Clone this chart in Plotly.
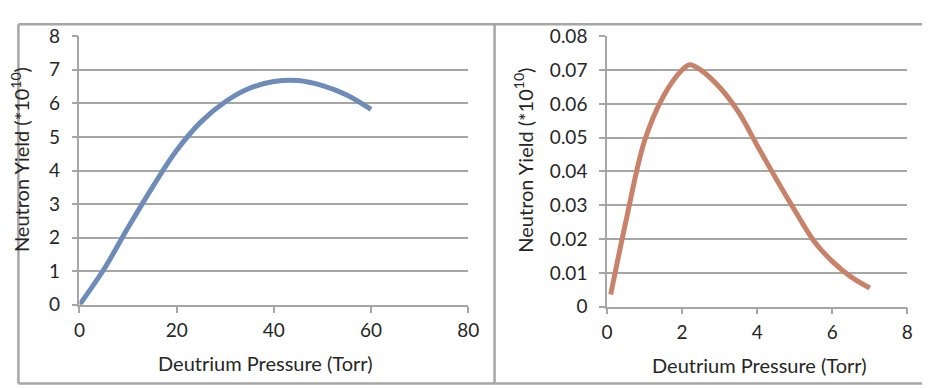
import plotly.graph_objects as go

W, H = 930, 388

# ---- data ----
left_pressure = [0, 5, 10, 15, 20, 25, 30, 35, 40, 45, 50, 55, 60]
left_yield = [0, 1.05, 2.3, 3.5, 4.6, 5.45, 6.05, 6.45, 6.65, 6.68, 6.53, 6.25, 5.82]

right_pressure = [0.1, 0.5, 1.0, 1.5, 2.0, 2.2, 2.5, 3.0, 3.5, 4.0, 4.5, 5.0, 5.5, 6.0, 6.5, 7.0]
right_yield = [0.0036, 0.025, 0.049, 0.0622, 0.0700, 0.0716, 0.0700, 0.0649, 0.0576,
               0.0477, 0.0379, 0.0285, 0.0196, 0.0134, 0.0088, 0.0055]

left_xticks = [0, 20, 40, 60, 80]
left_yticks = [0, 1, 2, 3, 4, 5, 6, 7, 8]
right_xticks = [0, 2, 4, 6, 8]
right_yticks = [0, 0.01, 0.02, 0.03, 0.04, 0.05, 0.06, 0.07, 0.08]
right_yticklabels = ["0", "0.01", "0.02", "0.03", "0.04", "0.05", "0.06", "0.07", "0.08"]

x_title = "Deutrium Pressure (Torr)"
y_title = "Neutron Yield (*10<sup>10</sup>)"

BLUE = "#6D8CBA"
ORANGE = "#C9826A"
GRID = "#A6A6A6"
TXT = "#262626"
FONT = "Lato, Liberation Sans, sans-serif"

def px_x(p):
    return p / W

def px_y(p):
    return (H - p) / H

fig = go.Figure()
fig.add_trace(go.Scatter(x=left_pressure, y=left_yield, mode="lines",
                         line=dict(color=BLUE, width=5, shape="spline", smoothing=1.0),
                         xaxis="x", yaxis="y", showlegend=False))
fig.add_trace(go.Scatter(x=right_pressure, y=right_yield, mode="lines",
                         line=dict(color=ORANGE, width=5, shape="spline", smoothing=1.0),
                         xaxis="x2", yaxis="y2", showlegend=False))

common_x = dict(showgrid=False, zeroline=False, showline=True, linecolor=GRID, linewidth=1.5,
                ticks="outside", ticklen=6, tickcolor=GRID, tickwidth=1.5,
                tickfont=dict(family=FONT, size=19, color=TXT), ticklabelstandoff=2,
                fixedrange=True)
common_y = dict(showgrid=True, gridcolor=GRID, gridwidth=1.5, zeroline=False, showline=True,
                linecolor=GRID, linewidth=1.5, ticks="outside", ticklen=6, tickcolor=GRID,
                tickwidth=1.5, tickfont=dict(family=FONT, size=19, color=TXT),
                ticklabelstandoff=8, fixedrange=True)

fig.update_layout(
    width=W, height=H, margin=dict(l=0, r=0, t=0, b=0),
    paper_bgcolor="white", plot_bgcolor="white",
    xaxis=dict(domain=[px_x(66.7), px_x(462.7)], range=[0, 80], tickvals=left_xticks,
               anchor="y", **common_x),
    yaxis=dict(domain=[px_y(302.7), px_y(17.3)], range=[0, 8], tickvals=left_yticks,
               anchor="x", **common_y),
    xaxis2=dict(domain=[px_x(604), px_x(910)], range=[0, 8], tickvals=right_xticks,
                anchor="y2", **common_x),
    yaxis2=dict(domain=[px_y(304.7), px_y(17.3)], range=[0, 0.08], tickvals=right_yticks,
                ticktext=right_yticklabels, anchor="x2", **common_y),
)

ann_font = dict(family=FONT, size=20, color=TXT)
fig.add_annotation(text=x_title, x=px_x(256), y=px_y(365), xref="paper", yref="paper",
                   showarrow=False, font=ann_font, xanchor="center", yanchor="middle")
fig.add_annotation(text=x_title, x=px_x(759), y=px_y(367), xref="paper", yref="paper",
                   showarrow=False, font=ann_font, xanchor="center", yanchor="middle")
fig.add_annotation(text=y_title, x=px_x(6), y=px_y(148), xref="paper", yref="paper",
                   showarrow=False, font=ann_font, textangle=-90, xanchor="center", yanchor="middle")
fig.add_annotation(text=y_title, x=px_x(519), y=px_y(149), xref="paper", yref="paper",
                   showarrow=False, font=ann_font, textangle=-90, xanchor="center", yanchor="middle")

border = dict(color=GRID, width=2.5)
fig.add_shape(type="line", xref="paper", yref="paper", x0=px_x(4.5), x1=1.02,
              y0=px_y(4.5), y1=px_y(4.5), line=border)
fig.add_shape(type="line", xref="paper", yref="paper", x0=px_x(4.5), x1=1.02,
              y0=px_y(386.5), y1=px_y(386.5), line=border)
fig.add_shape(type="line", xref="paper", yref="paper", x0=px_x(4.5), x1=px_x(4.5),
              y0=px_y(4.5), y1=px_y(386.5), line=border)
fig.add_shape(type="line", xref="paper", yref="paper", x0=px_x(489.5), x1=px_x(489.5),
              y0=px_y(4.5), y1=px_y(386.5), line=border)

fig.write_html("out.html")
